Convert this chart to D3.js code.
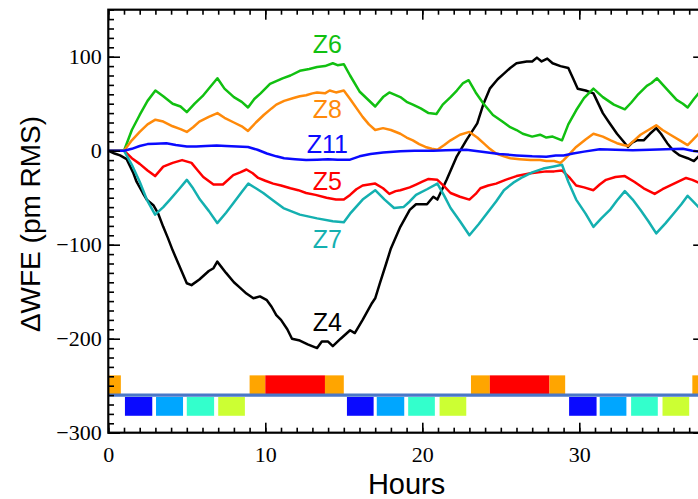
<!DOCTYPE html>
<html>
<head>
<meta charset="utf-8">
<script src="https://cdn.jsdelivr.net/npm/d3@7"></script>
<style>
  html, body { margin: 0; padding: 0; background: #fff; }
  svg { display: block; }
  .tick text { font-family: "Liberation Serif", "Times New Roman", Times, "DejaVu Serif", serif; }
  .title { font-family: "Liberation Sans", Arial, Helvetica, sans-serif; }
</style>
</head>
<body>
<svg id="chart" width="698" height="499"></svg>
<script>
// Wavefront error change per Zernike term over time, [hours, pm RMS]
const z4 = [[0,0],[0.4,-3],[0.75,-5],[1.17,-9],[1.6,-24],[1.8,-33],[2.2,-45],[2.45,-52],[2.87,-58],[3.18,-67],[3.5,-81],[3.8,-93],[4.1,-106],[4.46,-120],[5.0,-141],[5.3,-143],[5.8,-137],[6.4,-128],[6.7,-125],[6.94,-118],[7.5,-130],[8.0,-140],[8.4,-146],[8.8,-152],[9.24,-157],[9.66,-155],[10.1,-159],[10.4,-166],[10.7,-175],[11.0,-180],[11.4,-190],[11.7,-200],[12.2,-202],[12.7,-206],[13.3,-210],[13.6,-203],[14.0,-203],[14.3,-208],[14.8,-200],[15.4,-191],[15.7,-194],[16.2,-180],[16.8,-162],[17.0,-157],[17.3,-141],[17.7,-120],[18.0,-104],[18.6,-81],[19.2,-63],[19.6,-57],[20.3,-57],[20.7,-49],[20.96,-52],[21.55,-31],[22.2,-6],[22.8,11],[23.5,29],[23.9,50],[24.3,66],[24.8,76],[25.2,82],[25.6,88],[26.0,93],[26.65,95],[27.0,95],[27.3,99],[27.6,95],[27.96,98],[28.3,93],[28.8,90],[29.3,88],[29.6,77],[29.9,66],[30.4,64],[30.9,61],[31.5,40],[31.9,30],[32.4,18],[32.8,10],[33.1,4],[33.4,9],[33.66,11],[34.1,11],[34.5,18],[34.9,24],[35.2,18],[35.6,8],[36.0,0],[36.4,-5],[36.9,-8],[37.3,-11],[37.6,-6],[37.8,-3]];

const z5 = [[0,0],[1.0,0],[1.5,-8],[2.0,-14],[2.5,-21],[2.98,-27],[3.5,-17],[4.1,-13],[4.7,-10],[5.3,-13],[5.7,-21],[6.05,-28],[6.7,-36],[7.3,-36],[7.96,-26],[8.4,-23],[8.8,-20],[9.2,-24],[9.55,-29],[10.0,-32],[10.5,-35],[11.0,-37],[11.6,-40],[12.1,-42],[12.6,-45],[13.2,-47],[13.9,-50],[14.5,-52],[15.0,-52],[15.4,-47],[15.8,-41],[16.2,-37],[17.0,-35],[17.5,-40],[17.9,-46],[18.3,-43],[18.6,-42],[19.2,-39],[19.6,-36],[20.0,-33],[20.4,-30],[20.96,-31],[21.4,-38],[21.8,-45],[22.4,-49],[23.0,-52],[23.4,-46],[23.7,-40],[24.2,-37],[24.7,-35],[25.3,-31],[26.0,-27],[26.9,-24],[27.9,-22],[28.4,-22],[28.9,-21],[29.4,-29],[29.8,-37],[30.3,-39],[30.9,-42],[31.3,-36],[31.7,-31],[32.3,-28],[32.9,-27],[33.5,-33],[34.1,-40],[34.8,-46],[35.3,-41],[35.8,-37],[36.3,-33],[36.8,-29],[37.2,-31],[37.6,-34],[37.8,-35]];

const z6 = [[0,0],[1.0,0],[1.5,22],[2.0,38],[2.5,53],[3.0,64],[3.5,58],[4.1,50],[4.6,47],[5.0,41],[5.5,50],[6.0,58],[6.5,68],[6.95,77],[7.4,66],[8.0,57],[8.5,52],[8.9,46],[9.3,55],[9.7,61],[10.3,71],[11.1,77],[11.6,80],[12.2,85],[12.8,87],[13.3,89],[13.8,90],[14.3,93],[14.6,91],[15.0,92],[15.4,80],[16.0,63],[16.5,55],[17.0,47],[17.5,57],[17.9,62],[18.6,57],[19.0,52],[19.4,49],[19.9,45],[20.4,40],[20.9,39],[21.3,49],[21.8,57],[22.2,64],[22.6,72],[22.95,75],[23.4,62],[23.9,50],[24.5,38],[25.1,31],[25.6,25],[26.0,22],[26.4,18],[27.0,15],[27.5,17],[27.9,14],[28.3,15],[28.9,11],[29.3,28],[29.8,43],[30.3,56],[30.9,66],[31.5,57],[32.2,49],[32.9,44],[33.3,51],[33.7,59],[34.3,69],[34.6,72],[34.95,77],[35.6,65],[36.2,54],[36.6,50],[36.9,46],[37.3,55],[37.6,61],[37.8,64]];

const z7 = [[0,0],[1.0,0],[1.5,-15],[2.0,-33],[2.45,-52],[2.98,-68],[3.5,-60],[3.93,-52],[4.5,-41],[5.0,-31],[5.4,-40],[5.84,-52],[6.4,-64],[6.94,-77],[7.5,-66],[7.96,-56],[8.5,-44],[8.92,-35],[9.4,-40],[9.87,-45],[10.5,-53],[11.15,-61],[12.2,-68],[13.3,-72],[14.3,-75],[15.0,-76],[15.4,-67],[16.2,-52],[17.0,-42],[17.6,-52],[18.2,-61],[18.8,-60],[19.2,-54],[19.6,-47],[20.3,-41],[20.96,-35],[21.4,-48],[21.8,-61],[22.4,-75],[23.0,-90],[23.6,-78],[24.1,-67],[24.7,-54],[25.2,-42],[25.8,-34],[26.4,-28],[27.0,-23],[27.7,-19],[28.3,-17],[28.9,-15],[29.3,-33],[29.8,-52],[30.4,-67],[30.9,-81],[31.4,-72],[31.95,-63],[32.4,-53],[32.9,-43],[33.4,-52],[33.9,-63],[34.4,-75],[34.9,-88],[35.5,-77],[36.0,-67],[36.5,-57],[36.9,-48],[37.2,-53],[37.6,-60],[37.8,-63]];

const z8 = [[0,0],[1.0,0],[1.5,11],[2.0,20],[2.5,28],[3.0,33],[3.5,31],[4.1,26],[4.6,23],[5.0,20],[5.4,25],[5.8,31],[6.4,36],[6.95,40],[7.4,35],[8.0,30],[8.5,26],[8.9,21],[9.4,30],[9.9,38],[10.4,45],[10.7,49],[11.2,53],[11.8,56],[12.2,58],[12.6,59],[13.0,61],[13.3,62],[13.8,61],[14.1,64],[14.5,62],[15.0,64],[15.4,55],[16.2,36],[16.6,28],[17.0,22],[17.5,24],[18.0,22],[18.6,18],[19.0,14],[19.4,11],[19.8,7],[20.2,4],[20.6,2],[20.96,1],[21.4,6],[21.8,11],[22.4,17],[23.0,20],[23.5,14],[23.9,8],[24.3,2],[24.7,-3],[25.2,-6],[25.6,-8],[26.2,-9],[26.9,-10],[27.5,-10],[27.9,-11],[28.4,-11],[28.8,-13],[29.0,-10],[29.4,-3],[29.8,4],[30.4,12],[30.9,18],[31.5,15],[32.0,11],[32.4,8],[32.8,6],[33.1,5],[33.5,11],[33.9,17],[34.4,22],[34.9,27],[35.3,22],[35.8,17],[36.4,11],[36.9,6],[37.2,11],[37.6,18],[37.8,22]];

const z11 = [[0,0],[1.0,0],[1.5,2],[2.0,5],[2.5,7],[3.0,7.5],[3.7,8],[4.3,6],[5.0,4.5],[5.6,4.5],[6.2,5],[6.9,5.5],[7.5,5],[8.2,4.5],[8.9,4],[9.5,1],[10.1,-3],[10.7,-6],[11.2,-8],[11.9,-9],[12.6,-10],[13.3,-9.5],[14.0,-9],[14.6,-9.5],[15.4,-9.5],[16.0,-6],[16.7,-3.5],[17.5,-2],[18.6,-0.5],[19.5,0],[20.7,0],[21.5,0.5],[22.8,1],[23.8,-1],[24.9,-3.5],[26.0,-5],[27.0,-6],[27.9,-6.5],[28.5,-5],[29.0,-5],[29.6,-3],[30.3,-1],[31.3,1.5],[32.3,1],[33.4,0.5],[34.5,1],[35.5,1.5],[36.6,2],[37.2,0],[37.6,-1],[37.8,-1]];

const seriesNames = ["Z4", "Z5", "Z6", "Z7", "Z8", "Z11"];
const seriesData = [z4, z5, z6, z7, z8, z11];

// Operational timeline: thermal state above the baseline, sequence phases below
// [start hour, end hour, kind]
const thermalBlocks = [[0,0.8,"warm"],[9.0,10.0,"warm"],[10.0,13.8,"hot"],[13.8,15.0,"warm"],[23.1,24.3,"warm"],[24.3,28.1,"hot"],[28.1,29.1,"warm"],[37.2,38,"warm"]];
const phaseBlocks = [[1.06,2.8,"p1"],[3.04,4.76,"p2"],[5.0,6.74,"p3"],[7.0,8.7,"p4"],[15.2,16.9,"p1"],[17.1,18.85,"p2"],[19.1,20.8,"p3"],[21.1,22.8,"p4"],[29.35,31.1,"p1"],[31.3,33.0,"p2"],[33.3,35.0,"p3"],[35.3,37.0,"p4"]];
const timelineBase = -260;
const thermalTop = -239;
const phaseTop = -262;
const phaseBottom = -282;

const xTicks = [0, 10, 20, 30];
const yTicks = [-300, -200, -100, 0, 100];

// ---- drawing ----
const svg = d3.select("#chart");
const x = d3.scaleLinear().domain([0, 38]).range([108.3, 704.9]);
const y = d3.scaleLinear().domain([-300, 150]).range([432.7, 9.7]);

const colors = { Z4: "#000000", Z5: "#ff0000", Z6: "#11c011", Z7: "#14b0b0", Z8: "#ff8a0a", Z11: "#0a0aff" };
const blockColors = { warm: "#ffa500", hot: "#ff0000", p1: "#0a0aff", p2: "#00a6ff", p3: "#33ffcc", p4: "#ccff33" };

svg.append("defs").append("clipPath").attr("id", "plot-clip")
  .append("rect").attr("x", x(0)).attr("y", y(150))
  .attr("width", x(38) - x(0)).attr("height", y(-300) - y(150));

const plot = svg.append("g").attr("clip-path", "url(#plot-clip)");

// timeline blocks
plot.selectAll("rect.thermal").data(thermalBlocks).join("rect")
  .attr("class", "thermal")
  .attr("x", d => x(d[0])).attr("width", d => x(d[1]) - x(d[0]))
  .attr("y", y(thermalTop)).attr("height", y(timelineBase) - y(thermalTop))
  .attr("fill", d => blockColors[d[2]]);

plot.selectAll("rect.phase").data(phaseBlocks).join("rect")
  .attr("class", "phase")
  .attr("x", d => x(d[0])).attr("width", d => x(d[1]) - x(d[0]))
  .attr("y", y(phaseTop)).attr("height", y(phaseBottom) - y(phaseTop))
  .attr("fill", d => blockColors[d[2]]);

plot.append("line")
  .attr("x1", x(0)).attr("x2", x(38))
  .attr("y1", y(timelineBase)).attr("y2", y(timelineBase))
  .attr("stroke", "#4a78c8").attr("stroke-width", 3.4);

// series lines
const line = d3.line().x(d => x(d[0])).y(d => y(d[1]));
seriesNames.forEach((name, i) => {
  plot.append("path")
    .datum(seriesData[i])
    .attr("d", line)
    .attr("fill", "none")
    .attr("stroke", colors[name])
    .attr("stroke-width", 2.5)
    .attr("stroke-linejoin", "round");
});

// series labels
const labelSpots = { Z6: [13.95, 103.6], Z8: [13.95, 34.7], Z11: [13.95, -2.8], Z5: [13.95, -41.8], Z7: [13.95, -103.8], Z4: [13.95, -191.8] };
seriesNames.forEach(name => {
  const p = labelSpots[name];
  svg.append("text")
    .attr("class", "title")
    .attr("x", x(p[0])).attr("y", y(p[1]))
    .attr("text-anchor", "middle")
    .attr("font-size", 25)
    .attr("fill", colors[name])
    .text(name);
});

// axes
const fmt = d => d < 0 ? "\u2212" + Math.abs(d) : String(d);
const hourMinor = d3.range(0, 39, 1);
const valueMinor = d3.range(-300, 151, 10);

function styleAxis(g) {
  g.attr("font-family", null);
  g.select(".domain").remove();
  g.selectAll(".tick line").attr("stroke", "#000").attr("stroke-width", 1.6);
  g.selectAll("text").attr("font-size", 22).attr("fill", "#000");
}

svg.append("g").attr("transform", `translate(0,${y(-300)})`)
  .call(d3.axisBottom(x).tickValues(hourMinor).tickSize(-5).tickFormat(""))
  .call(styleAxis);
svg.append("g").attr("transform", `translate(0,${y(-300)})`)
  .call(d3.axisBottom(x).tickValues(xTicks).tickSize(-10).tickPadding(13.5).tickFormat(fmt))
  .call(styleAxis);

svg.append("g").attr("transform", `translate(0,${y(150)})`)
  .call(d3.axisTop(x).tickValues(hourMinor).tickSize(-5).tickFormat(""))
  .call(styleAxis);
svg.append("g").attr("transform", `translate(0,${y(150)})`)
  .call(d3.axisTop(x).tickValues(xTicks).tickSize(-10).tickFormat(""))
  .call(styleAxis);

svg.append("g").attr("transform", `translate(${x(0)},0)`)
  .call(d3.axisLeft(y).tickValues(valueMinor).tickSize(-5.7).tickFormat(""))
  .call(styleAxis);
svg.append("g").attr("transform", `translate(${x(0)},0)`)
  .call(d3.axisLeft(y).tickValues(yTicks).tickSize(-11.7).tickPadding(6.6).tickFormat(fmt))
  .call(styleAxis);

svg.append("g").attr("transform", `translate(${x(38)},0)`)
  .call(d3.axisRight(y).tickValues(valueMinor).tickSize(-5.7).tickFormat(""))
  .call(styleAxis);
svg.append("g").attr("transform", `translate(${x(38)},0)`)
  .call(d3.axisRight(y).tickValues(yTicks).tickSize(-11.7).tickFormat(""))
  .call(styleAxis);

// frame
svg.append("rect")
  .attr("x", x(0)).attr("y", y(150))
  .attr("width", x(38) - x(0)).attr("height", y(-300) - y(150))
  .attr("fill", "none").attr("stroke", "#000").attr("stroke-width", 2.2);

// axis titles
svg.append("text")
  .attr("class", "title")
  .attr("transform", `translate(40,224) rotate(-90)`)
  .attr("text-anchor", "middle")
  .attr("font-size", 28)
  .text("\u0394WFE (pm RMS)");

svg.append("text")
  .attr("class", "title")
  .attr("x", (x(0) + x(38)) / 2).attr("y", 494)
  .attr("text-anchor", "middle")
  .attr("font-size", 29)
  .text("Hours");
</script>
</body>
</html>
